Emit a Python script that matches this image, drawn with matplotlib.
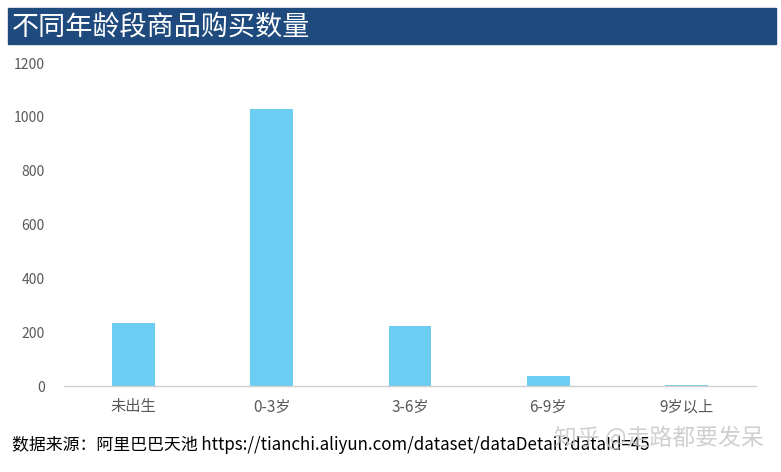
import matplotlib.pyplot as plt
from matplotlib.patches import Rectangle

plt.rcParams['font.family'] = ['Noto Sans CJK SC', 'DejaVu Sans']

categories = ['未出生', '0-3岁', '3-6岁', '6-9岁', '9岁以上']
counts = [235, 1030, 223, 38, 4]
yticks = [0, 200, 400, 600, 800, 1000, 1200]

title = '不同年龄段商品购买数量'
source = '数据来源：阿里巴巴天池 https://tianchi.aliyun.com/dataset/dataDetail?dataId=45'
watermark = '知乎 @走路都要发呆'

W, H = 781, 472
fig = plt.figure(figsize=(W / 100, H / 100), dpi=100)

# title bar
fig.patches.append(Rectangle((8 / W, 1 - 44 / H), 768 / W, 36 / H,
                             transform=fig.transFigure, color='#1F4A7E', zorder=0))
fig.text(12 / W, 1 - 27 / H, title, color='white', fontsize=19.5, va='center', ha='left')

# plot area: x 64..756, y 63..386 (pixels)
ax = fig.add_axes([64 / W, 1 - 386 / H, 692 / W, 323 / H])
ax.bar(range(len(categories)), counts, width=0.31, color='#6BCDF2', zorder=2)
ax.set_xlim(-0.5, len(categories) - 0.5)
ax.set_ylim(0, 1200)
ax.set_yticks(yticks)
ax.set_xticks(range(len(categories)))
ax.set_xticklabels(categories)
for s in ['top', 'right', 'left']:
    ax.spines[s].set_visible(False)
ax.spines['bottom'].set_color('#D0D0D0')
ax.spines['bottom'].set_linewidth(1)
ax.tick_params(axis='y', length=0, labelsize=10, labelcolor='#595959', pad=14)
ax.tick_params(axis='x', length=0, labelsize=11, labelcolor='#595959', pad=9)

fig.text(12 / W, 1 - 445 / H, source, fontsize=12.2, color='black', va='center', ha='left')
fig.text(764 / W, 1 - 438 / H, watermark, fontsize=16.5, color='#C4C4C4', alpha=0.8,
         va='center', ha='right')

fig.savefig('out.png', dpi=100)
